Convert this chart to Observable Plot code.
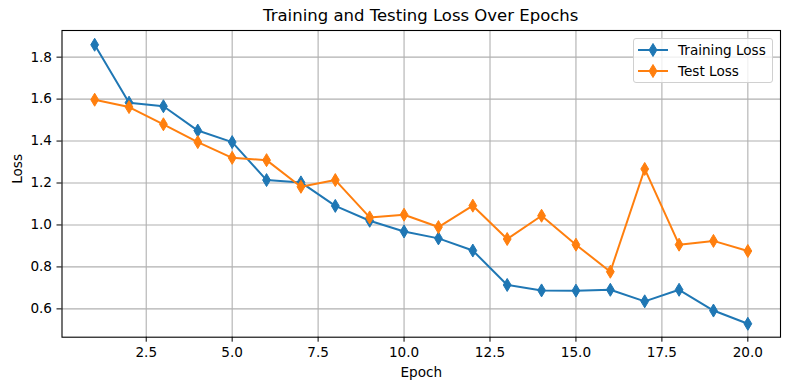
<!DOCTYPE html>
<html>
<head>
<meta charset="utf-8">
<script src="https://cdn.jsdelivr.net/npm/d3@7"></script>
<script src="https://cdn.jsdelivr.net/npm/@observablehq/plot@0.6"></script>
<style>
  html, body { margin: 0; padding: 0; background: #fff; }
  #wrap { position: relative; width: 790px; height: 390px; font-family: "DejaVu Sans", sans-serif; color: #000; }
  #title { position: absolute; left: 61.5px; width: 718.5px; top: 0; height: 30px; line-height: 32px; text-align: center; font-size: 16.5px; }
  #chart { position: absolute; left: 0; top: 28px; }
  #legend { position: absolute; left: 633px; top: 37.5px; width: 140px; height: 45px; background: rgba(255,255,255,0.8); border: 1px solid #d0d0d0; border-radius: 3px; box-sizing: border-box; font-size: 13.6px; }
  .item { position: absolute; left: 0; height: 20px; display: flex; align-items: center; }
  .item svg { margin-left: 4px; margin-right: 10px; }
</style>
</head>
<body>
<div id="wrap">
  <div id="title">Training and Testing Loss Over Epochs</div>
  <div id="chart"></div>
  <div id="legend"></div>
</div>
<script>
const epochs = [1,2,3,4,5,6,7,8,9,10,11,12,13,14,15,16,17,18,19,20];
const trainLoss = [1.859,1.583,1.566,1.450,1.395,1.214,1.203,1.091,1.020,0.969,0.936,0.878,0.714,0.688,0.687,0.691,0.636,0.691,0.592,0.529];
const testLoss = [1.597,1.562,1.480,1.395,1.320,1.309,1.182,1.214,1.036,1.049,0.990,1.092,0.933,1.044,0.906,0.777,1.267,0.906,0.924,0.876];
const seriesNames = ["Training Loss", "Test Loss"];
const seriesColors = ["#1f77b4", "#ff7f0e"];
const xTicks = [2.5,5,7.5,10,12.5,15,17.5,20];
const yTicks = [0.6,0.8,1.0,1.2,1.4,1.6,1.8];

const thinDiamond = {
  draw(context, size) {
    const r = Math.sqrt(size / Math.PI);
    context.moveTo(0, -r);
    context.lineTo(0.6 * r, 0);
    context.lineTo(0, r);
    context.lineTo(-0.6 * r, 0);
    context.closePath();
  }
};

const train = epochs.map((e, i) => ({epoch: e, loss: trainLoss[i]}));
const test = epochs.map((e, i) => ({epoch: e, loss: testLoss[i]}));

const chart = Plot.plot({
  width: 790,
  height: 362,
  marginLeft: 61.5,
  marginRight: 10,
  marginTop: 2,
  marginBottom: 53.3,
  style: {fontFamily: "DejaVu Sans, sans-serif", fontSize: "13.6px", color: "#000", background: "transparent"},
  x: {domain: [0.05, 20.95]},
  y: {domain: [0.465, 1.927]},
  marks: [
    Plot.gridX(xTicks, {stroke: "#b0b0b0", strokeOpacity: 1, strokeWidth: 1.1}),
    Plot.gridY(yTicks, {stroke: "#b0b0b0", strokeOpacity: 1, strokeWidth: 1.1}),
    Plot.axisX(xTicks, {tickSize: 5, tickPadding: 5, tickFormat: d3.format(".1f"), label: null, stroke: "#000"}),
    Plot.axisY(yTicks, {tickSize: 5, tickPadding: 5, tickFormat: d3.format(".1f"), label: null, stroke: "#000"}),
    Plot.line(train, {x: "epoch", y: "loss", stroke: seriesColors[0], strokeWidth: 2}),
    Plot.dot(train, {x: "epoch", y: "loss", symbol: thinDiamond, r: 6.5, fill: seriesColors[0], stroke: seriesColors[0], strokeWidth: 1}),
    Plot.line(test, {x: "epoch", y: "loss", stroke: seriesColors[1], strokeWidth: 2}),
    Plot.dot(test, {x: "epoch", y: "loss", symbol: thinDiamond, r: 6.5, fill: seriesColors[1], stroke: seriesColors[1], strokeWidth: 1}),
    Plot.frame({stroke: "#000", strokeWidth: 1.1}),
    Plot.text(["Epoch"], {frameAnchor: "bottom", dy: 35.5, lineAnchor: "middle", fontSize: 13.6, fill: "#000"}),
    Plot.text(["Loss"], {frameAnchor: "left", dx: -44.5, rotate: -90, lineAnchor: "middle", fontSize: 13.6, fill: "#000"})
  ]
});
document.getElementById("chart").appendChild(chart);

const legend = document.getElementById("legend");
seriesNames.forEach((name, i) => {
  const item = document.createElement("div");
  item.className = "item";
  item.style.top = (1.5 + i * 21) + "px";
  const ns = "http://www.w3.org/2000/svg";
  const svg = document.createElementNS(ns, "svg");
  svg.setAttribute("width", 30);
  svg.setAttribute("height", 16);
  const line = document.createElementNS(ns, "line");
  line.setAttribute("x1", 0); line.setAttribute("x2", 30);
  line.setAttribute("y1", 8); line.setAttribute("y2", 8);
  line.setAttribute("stroke", seriesColors[i]); line.setAttribute("stroke-width", 2);
  svg.appendChild(line);
  const p = document.createElementNS(ns, "path");
  p.setAttribute("d", "M15,1.5L18.9,8L15,14.5L11.1,8Z");
  p.setAttribute("fill", seriesColors[i]); p.setAttribute("stroke", seriesColors[i]);
  svg.appendChild(p);
  item.appendChild(svg);
  const span = document.createElement("span");
  span.textContent = name;
  item.appendChild(span);
  legend.appendChild(item);
});
</script>
</body>
</html>
